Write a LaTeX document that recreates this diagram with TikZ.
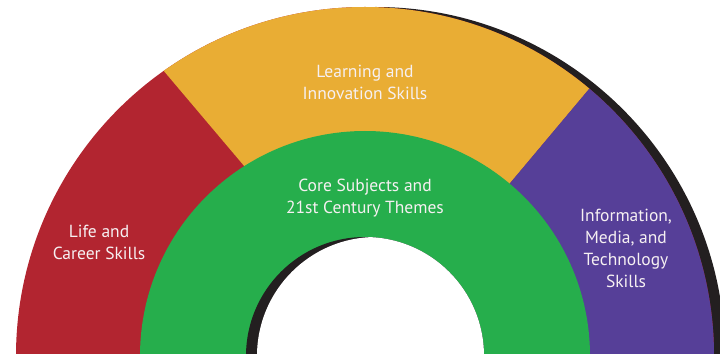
\documentclass[tikz,border=0pt]{standalone}
\usepackage{fontspec}
\setmainfont{PT Sans}
\usetikzlibrary{calc}
\definecolor{skred}{RGB}{178,37,48}
\definecolor{skyellow}{RGB}{233,173,52}
\definecolor{skpurple}{RGB}{86,63,152}
\definecolor{skgreen}{RGB}{38,174,76}
\definecolor{skshadow}{RGB}{35,31,32}
\definecolor{sktext}{RGB}{246,240,242}
\tikzset{
  label/.style={align=center, text=sktext, inner sep=0pt,
    font=\fontsize{17.5}{22}\selectfont}
}
\begin{document}
\begin{tikzpicture}[x=1pt,y=1pt]
\useasboundingbox (0,0) rectangle (720,356);
\coordinate (c) at (365,0);
\coordinate (cs) at (376,0);
\coordinate (la) at (245,189);
\coordinate (lb) at (163,286);
\coordinate (rfar) at ($(c)+(50:900)$);
\begin{scope}
  \clip (0,3) rectangle (720,400);
  % shadow
  \fill[skshadow] (cs) circle[radius=349];
  % red base
  \fill[skred] (c) circle[radius=349];
  \begin{scope}
    \clip (c) circle[radius=349];
    \fill[skyellow] (intersection of la--lb and c--rfar)
      -- ($(la)!5!(lb)$) -- (rfar) -- cycle;
    \fill[skpurple] (c) -- (rfar) -- (1200,700) -- (1200,0) -- cycle;
  \end{scope}
  % green ring
  \fill[skgreen] (c) circle[radius=225];
  % hole with shadow
  \fill[skshadow] (c) circle[radius=119];
  \begin{scope}
    \clip (c) circle[radius=119];
    \fill[white] (cs) circle[radius=119];
  \end{scope}
\end{scope}
\node[label] (learn) at (365,273.5) {Learning and\\Innovation Skills};
\node[label] (core) at (365,158) {Core Subjects and\\21st Century Themes};
\node[label] (life) at (99,113.5) {Life and\\Career Skills};
\node[label] (info) at (626,108) {Information,\\Media, and\\Technology\\Skills};
\end{tikzpicture}
\end{document}
